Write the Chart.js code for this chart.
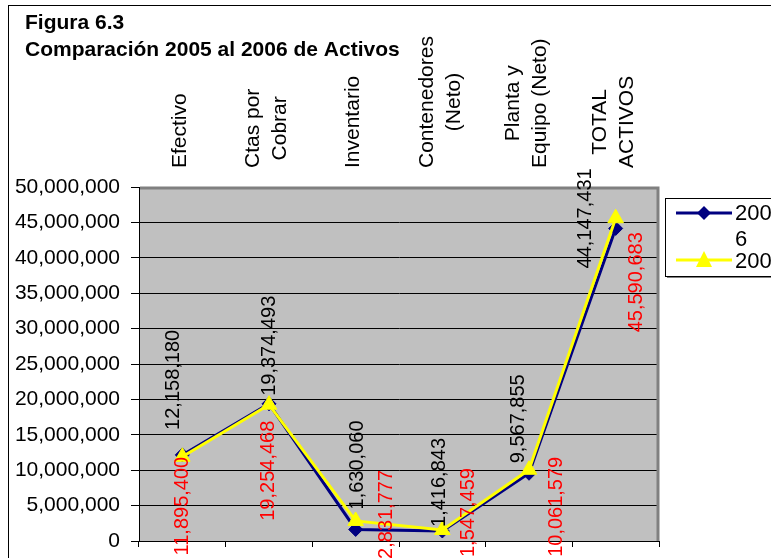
<!DOCTYPE html>
<html>
<head>
<meta charset="utf-8">
<title>Figura 6.3</title>
<script src="https://cdn.jsdelivr.net/npm/chart.js@4/dist/chart.umd.min.js"></script>
<style>
  html, body { margin: 0; padding: 0; background: #fff; }
  canvas { display: block; }
</style>
</head>
<body>
<canvas id="chart" width="771" height="558"></canvas>
<script>
// categories (multi-line as in the original sheet)
const categories = [
  ['Efectivo'],
  ['Ctas por', 'Cobrar'],
  ['Inventario'],
  ['Contenedores', '(Neto)'],
  ['Planta y', 'Equipo (Neto)'],
  ['TOTAL', 'ACTIVOS']
];
const values2006 = [12158180, 19374493, 1630060, 1416843, 9567855, 44147431];
const values2005 = [11895400, 19254468, 2831777, 1547459, 10061579, 45590683];
const seriesNames = ['2006', '2005'];
const yMin = 0;
const yMax = 50000000;
const yStep = 5000000;

// label nudges, in pixels from the point (Excel had these dragged around)
const shift2006 = [[-9, -25], [0, -8], [2, -20], [-3, -4], [-11, -10], [-30, 40]];
const shift2005 = [[0, 0], [-1, 16], [31, -51], [26, -62], [27, -13], [21, 14]];

const FONT = "'Liberation Sans', Arial, sans-serif";
const fmt = v => Number(v).toLocaleString('en-US');

const decor = {
  id: 'decor',
  beforeDraw(chart) {
    const { ctx, chartArea: a } = chart;
    ctx.save();
    ctx.fillStyle = '#fff';
    ctx.fillRect(0, 0, chart.width, chart.height);
    ctx.fillStyle = '#c0c0c0';
    ctx.fillRect(a.left, a.top, a.right - a.left, a.bottom - a.top);
    ctx.restore();
  },
  beforeDatasetsDraw(chart) {
    const { ctx, chartArea: a } = chart;
    ctx.save();
    ctx.strokeStyle = '#808080';
    ctx.lineWidth = 3;
    ctx.beginPath();
    ctx.moveTo(a.left + 1, a.top + 1);
    ctx.lineTo(a.right - 1, a.top + 1);
    ctx.lineTo(a.right - 1, a.bottom);
    ctx.stroke();
    ctx.restore();
  },
  afterDatasetsDraw(chart) {
    const { ctx } = chart;
    ctx.save();
    ctx.font = '20px ' + FONT;
    ctx.textBaseline = 'middle';
    // 2006 labels read upward, starting above the point
    chart.getDatasetMeta(0).data.forEach((pt, i) => {
      ctx.save();
      ctx.translate(pt.x + shift2006[i][0], pt.y + shift2006[i][1]);
      ctx.rotate(-Math.PI / 2);
      ctx.fillStyle = '#000';
      ctx.textAlign = 'left';
      ctx.fillText(fmt(values2006[i]), 0, 0);
      ctx.restore();
    });
    // 2005 labels hang below the point
    chart.getDatasetMeta(1).data.forEach((pt, i) => {
      ctx.save();
      ctx.translate(pt.x + shift2005[i][0], pt.y + shift2005[i][1]);
      ctx.rotate(-Math.PI / 2);
      ctx.fillStyle = '#ff0000';
      ctx.textAlign = 'right';
      ctx.fillText(fmt(values2005[i]), 0, 0);
      ctx.restore();
    });
    ctx.restore();
  },
  afterDraw(chart) {
    const { ctx } = chart;
    const x = chart.scales.x;
    ctx.save();

    // outer frame
    ctx.strokeStyle = '#000';
    ctx.lineWidth = 1;
    ctx.strokeRect(8.5, 5.5, 900, 700);

    // title
    ctx.fillStyle = '#000';
    ctx.font = 'bold 21px ' + FONT;
    ctx.textAlign = 'left';
    ctx.textBaseline = 'alphabetic';
    ctx.fillText('Figura 6.3', 25, 29);
    ctx.fillText('Comparación 2005 al 2006 de Activos', 25, 56);

    // category names, rotated, above the plot
    ctx.font = '21px ' + FONT;
    ctx.textAlign = 'center';
    ctx.textBaseline = 'middle';
    categories.forEach((lines, i) => {
      const cx = x.getPixelForValue(i) - 2;
      const w = Math.max(...lines.map(l => ctx.measureText(l).width));
      const cy = 168 - w / 2;
      lines.forEach((line, j) => {
        ctx.save();
        ctx.translate(cx + (j - (lines.length - 1) / 2) * 27, cy);
        ctx.rotate(-Math.PI / 2);
        ctx.fillText(line, 0, 0);
        ctx.restore();
      });
    });

    // legend box
    const lx = 665, ly = 198, lw = 130, lh = 78;
    ctx.fillStyle = '#808080';
    ctx.fillRect(lx + 2, ly + 2, lw, lh);
    ctx.fillStyle = '#fff';
    ctx.fillRect(lx, ly, lw, lh);
    ctx.strokeStyle = '#000';
    ctx.strokeRect(lx + 0.5, ly + 0.5, lw, lh);

    const rows = [
      { y: 213, color: '#000080', name: seriesNames[0], marker: 'diamond' },
      { y: 260, color: '#ffff00', name: seriesNames[1], marker: 'triangle' }
    ];
    rows.forEach(r => {
      ctx.strokeStyle = r.color;
      ctx.lineWidth = 3;
      ctx.beginPath();
      ctx.moveTo(676, r.y);
      ctx.lineTo(732, r.y);
      ctx.stroke();
      ctx.fillStyle = r.color;
      ctx.beginPath();
      if (r.marker === 'diamond') {
        ctx.moveTo(704, r.y - 7);
        ctx.lineTo(711, r.y);
        ctx.lineTo(704, r.y + 7);
        ctx.lineTo(697, r.y);
      } else {
        ctx.moveTo(704, r.y - 9);
        ctx.lineTo(712, r.y + 7);
        ctx.lineTo(696, r.y + 7);
      }
      ctx.closePath();
      ctx.fill();
    });
    // the legend text wraps in the narrow box: "200" / "6"
    ctx.fillStyle = '#000';
    ctx.font = '22px ' + FONT;
    ctx.textAlign = 'left';
    ctx.textBaseline = 'middle';
    ctx.fillText(seriesNames[0].slice(0, 3), 735, 214);
    ctx.fillText(seriesNames[0].slice(3), 735, 240);
    ctx.fillText(seriesNames[1], 735, 262);

    ctx.restore();
  }
};

const data = {
  labels: categories,
  datasets: [
    {
      label: seriesNames[0],
      data: values2006,
      borderColor: '#000080',
      backgroundColor: '#000080',
      borderWidth: 3,
      pointStyle: 'rectRot',
      pointRadius: 7,
      pointBorderWidth: 1,
      tension: 0,
      order: 2
    },
    {
      label: seriesNames[1],
      data: values2005,
      borderColor: '#ffff00',
      backgroundColor: '#ffff00',
      borderWidth: 3,
      pointStyle: 'triangle',
      pointRadius: 9,
      pointBorderWidth: 1,
      tension: 0,
      order: 1
    }
  ]
};

const config = {
  type: 'line',
  data: data,
  options: {
    responsive: false,
    animation: false,
    devicePixelRatio: 1,
    layout: { padding: { top: 187, right: 112, bottom: 0, left: 0 } },
    plugins: {
      legend: { display: false },
      tooltip: { enabled: false },
      title: { display: false }
    },
    scales: {
      x: {
        type: 'category',
        offset: true,
        afterFit: s => { s.height = 17; s.paddingLeft = 0; s.paddingRight = 0; },
        ticks: { display: false },
        grid: {
          offset: true,
          drawOnChartArea: false,
          drawTicks: true,
          tickLength: 6,
          color: '#000'
        },
        border: { display: true, color: '#000', width: 1 }
      },
      y: {
        min: yMin,
        max: yMax,
        afterFit: s => { s.width = 139; s.paddingTop = 0; s.paddingBottom = 0; },
        ticks: {
          stepSize: yStep,
          padding: 11,
          color: '#000',
          font: { family: FONT, size: 21 },
          callback: v => fmt(v)
        },
        grid: {
          color: '#000',
          lineWidth: 1,
          tickLength: 8,
          tickColor: '#000'
        },
        border: { display: true, color: '#000', width: 1 }
      }
    }
  },
  plugins: [decor]
};

new Chart(document.getElementById('chart').getContext('2d'), config);
</script>
</body>
</html>
